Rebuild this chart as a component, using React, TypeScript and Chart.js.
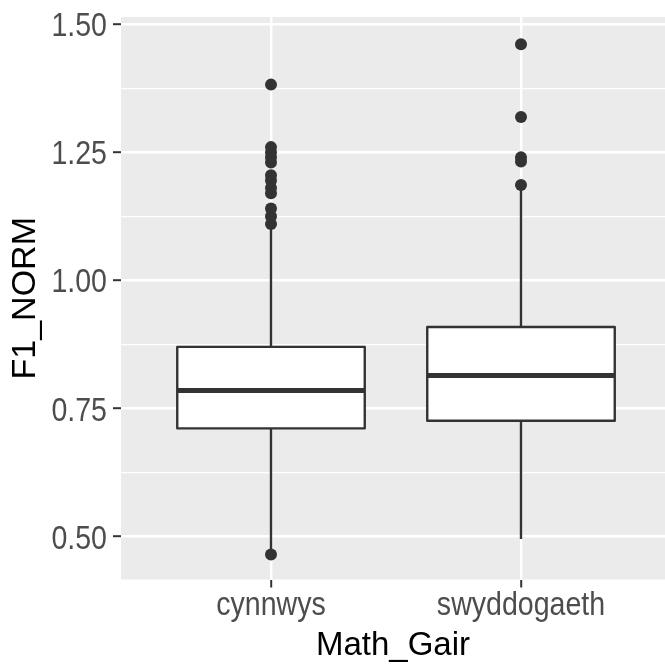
import { useEffect, useRef } from 'react';
import { Chart, registerables } from 'chart.js';

Chart.register(...registerables);

// Groups along the x axis
const categories = ['cynnwys', 'swyddogaeth'];

// Five-number summaries per group
const whiskerLow = [0.475, 0.495];
const q1 = [0.711, 0.726];
const median = [0.785, 0.814];
const q3 = [0.87, 0.909];
const whiskerHigh = [1.108, 1.18];

// Points beyond the whiskers
const outliersCynnwys = [0.465, 1.11, 1.125, 1.14, 1.17, 1.18, 1.195, 1.205, 1.23, 1.24, 1.25, 1.26, 1.382];
const outliersSwyddogaeth = [1.186, 1.232, 1.24, 1.319, 1.461];

// Labelled y ticks
const yTicks = [0.5, 0.75, 1.0, 1.25, 1.5];

const BOX_WIDTH = 0.75;
const PANEL_BG = '#EBEBEB';
const INK = '#333333';
const LABEL_INK = '#4D4D4D';
const FONT = "'Liberation Sans', Arial, Helvetica, sans-serif";
const TICK_SIZE = 34;
const TICK_SQUEEZE = 0.84; // narrow tick lettering
const TICK_LEN = 8;

const majorSet = new Set(yTicks.map((v) => v.toFixed(3)));
const isMajor = (v: number) => majorSet.has(v.toFixed(3));

// grey panel behind the grid
const panelPlugin = {
  id: 'panel',
  beforeDraw(chart: any) {
    const { ctx, chartArea: a } = chart;
    ctx.save();
    ctx.fillStyle = PANEL_BG;
    ctx.fillRect(a.left, a.top, a.right - a.left, a.bottom - a.top);
    ctx.restore();
  },
};

// whiskers, boxes and median bars
const boxPlugin = {
  id: 'boxes',
  beforeDatasetsDraw(chart: any) {
    const { ctx, chartArea: a } = chart;
    const xs = chart.scales.x;
    const ys = chart.scales.y;
    ctx.save();
    ctx.beginPath();
    ctx.rect(a.left, a.top, a.right - a.left, a.bottom - a.top);
    ctx.clip();
    categories.forEach((_, i) => {
      const cx = xs.getPixelForValue(i);
      const left = xs.getPixelForValue(i - BOX_WIDTH / 2);
      const right = xs.getPixelForValue(i + BOX_WIDTH / 2);
      const yLow = ys.getPixelForValue(whiskerLow[i]);
      const yQ1 = ys.getPixelForValue(q1[i]);
      const yMed = ys.getPixelForValue(median[i]);
      const yQ3 = ys.getPixelForValue(q3[i]);
      const yHigh = ys.getPixelForValue(whiskerHigh[i]);

      ctx.strokeStyle = INK;
      ctx.lineWidth = 2.4;
      ctx.lineCap = 'butt';
      ctx.beginPath();
      ctx.moveTo(cx, yQ3);
      ctx.lineTo(cx, yHigh);
      ctx.moveTo(cx, yQ1);
      ctx.lineTo(cx, yLow);
      ctx.stroke();

      ctx.fillStyle = '#FFFFFF';
      ctx.fillRect(left, yQ3, right - left, yQ1 - yQ3);
      ctx.lineJoin = 'round';
      ctx.strokeRect(left, yQ3, right - left, yQ1 - yQ3);

      ctx.lineWidth = 5;
      ctx.beginPath();
      ctx.moveTo(left, yMed);
      ctx.lineTo(right, yMed);
      ctx.stroke();
    });
    ctx.restore();
  },
};

// tick labels in a narrow, tall lettering
const tickLabelPlugin = {
  id: 'tickLabels',
  afterDraw(chart: any) {
    const { ctx } = chart;
    const xs = chart.scales.x;
    const ys = chart.scales.y;
    ctx.save();
    ctx.fillStyle = LABEL_INK;
    ctx.font = `${TICK_SIZE}px ${FONT}`;
    ctx.textBaseline = 'alphabetic';

    ctx.textAlign = 'right';
    yTicks.forEach((v) => {
      const py = ys.getPixelForValue(v);
      ctx.save();
      ctx.translate(ys.right - TICK_LEN - 6, py + 0.358 * TICK_SIZE);
      ctx.scale(TICK_SQUEEZE, 1);
      ctx.fillText(v.toFixed(2), 0, 0);
      ctx.restore();
    });

    ctx.textAlign = 'center';
    categories.forEach((name, i) => {
      const px = xs.getPixelForValue(i);
      ctx.save();
      ctx.translate(px, xs.top + 35.5);
      ctx.scale(TICK_SQUEEZE, 1);
      ctx.fillText(name, 0, 0);
      ctx.restore();
    });
    ctx.restore();
  },
};

export default function App() {
  const canvasRef = useRef<HTMLCanvasElement | null>(null);

  useEffect(() => {
    const canvas = canvasRef.current;
    if (!canvas) return;

    const outlierPoints = [
      ...outliersCynnwys.map((v) => ({ x: 0, y: v })),
      ...outliersSwyddogaeth.map((v) => ({ x: 1, y: v })),
    ];

    const minorTicks: number[] = [];
    for (let k = 0; k < yTicks.length - 1; k++) minorTicks.push((yTicks[k] + yTicks[k + 1]) / 2);
    const allYTicks = [...yTicks, ...minorTicks].sort((a, b) => a - b);

    const chart = new Chart(canvas, {
      type: 'scatter',
      data: {
        datasets: [
          {
            data: outlierPoints,
            backgroundColor: INK,
            borderColor: INK,
            borderWidth: 0,
            pointRadius: 6,
            pointHoverRadius: 6,
            clip: false,
          },
        ],
      },
      options: {
        animation: false,
        responsive: false,
        devicePixelRatio: 1,
        layout: { autoPadding: false, padding: { top: 17, left: 0, right: 0, bottom: 0 } },
        plugins: {
          legend: { display: false },
          tooltip: { enabled: false },
        },
        scales: {
          x: {
            type: 'linear',
            min: -0.6,
            max: 1.576,
            border: { display: false },
            afterBuildTicks: (scale: any) => {
              scale.ticks = categories.map((_, i) => ({ value: i }));
            },
            afterFit: (scale: any) => {
              scale.height = 84.5;
              scale.paddingLeft = 0;
              scale.paddingRight = 0;
              scale.paddingTop = 0;
              scale.paddingBottom = 0;
            },
            grid: {
              color: '#FFFFFF',
              lineWidth: 2.4,
              tickColor: INK,
              tickLength: TICK_LEN,
              tickWidth: 2,
            },
            ticks: { display: false, autoSkip: false },
            title: {
              display: true,
              text: 'Math_Gair',
              color: '#000000',
              font: { family: FONT, size: 33 },
              padding: { top: 0, bottom: -2 },
            },
          },
          y: {
            type: 'linear',
            min: 0.416,
            max: 1.514,
            border: { display: false },
            afterBuildTicks: (scale: any) => {
              scale.ticks = allYTicks.map((v) => ({ value: v }));
            },
            afterFit: (scale: any) => {
              scale.width = 121;
              scale.paddingLeft = 0;
              scale.paddingRight = 0;
              scale.paddingTop = 0;
              scale.paddingBottom = 0;
            },
            grid: {
              color: '#FFFFFF',
              lineWidth: (c: any) => (isMajor(c.tick?.value ?? 0) ? 2.4 : 1.2),
              tickColor: (c: any) => (isMajor(c.tick?.value ?? 0) ? INK : 'rgba(0,0,0,0)'),
              tickLength: TICK_LEN,
              tickWidth: 2,
            },
            ticks: { display: false, autoSkip: false },
            title: {
              display: true,
              text: 'F1_NORM',
              color: '#000000',
              font: { family: FONT, size: 34 },
              padding: { top: 5, bottom: 0 },
            },
          },
        },
      },
      plugins: [panelPlugin, boxPlugin, tickLabelPlugin],
    });

    return () => chart.destroy();
  }, []);

  return (
    <div style={{ position: 'fixed', left: 0, top: 0, width: 665, height: 664, background: '#FFFFFF' }}>
      <canvas ref={canvasRef} width={665} height={664} style={{ display: 'block' }} />
    </div>
  );
}
